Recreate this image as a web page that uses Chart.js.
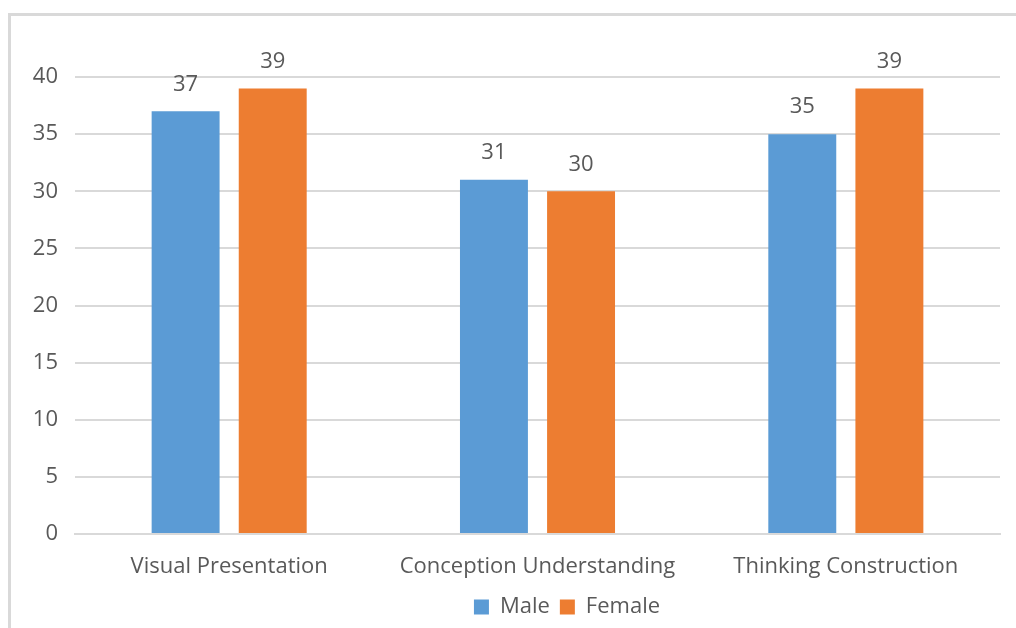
<!DOCTYPE html>
<html>
<head>
<meta charset="utf-8">
<script src="https://cdn.jsdelivr.net/npm/chart.js@4"></script>
<style>
  html, body { margin: 0; padding: 0; background: #fff; overflow: hidden; }
  #wrap { position: relative; width: 1016px; height: 628px; }
  #frame { position: absolute; left: 8px; top: 13px; width: 1030px; height: 640px;
           border: 3px solid #d9d9d9; box-sizing: border-box; }
  canvas { position: absolute; left: 0; top: 0; }
</style>
</head>
<body>
<div id="wrap">
  <div id="frame"></div>
  <canvas id="myChart" width="1016" height="628"></canvas>
</div>
<script>
// Data
const categories = ["Visual Presentation", "Conception Understanding", "Thinking Construction"];
const maleValues = [37, 31, 35];
const femaleValues = [39, 30, 39];
const yTicks = [0, 5, 10, 15, 20, 25, 30, 35, 40];

const textColor = "#595959";
const fontFamily = "'Open Sans', 'Liberation Sans', sans-serif";

// value labels above each bar
const valueLabels = {
  id: "valueLabels",
  afterDatasetsDraw(chart) {
    const ctx = chart.ctx;
    ctx.save();
    ctx.fillStyle = textColor;
    ctx.font = "22px " + fontFamily;
    ctx.textAlign = "center";
    ctx.textBaseline = "bottom";
    chart.data.datasets.forEach((ds, i) => {
      chart.getDatasetMeta(i).data.forEach((bar, j) => {
        ctx.fillText(ds.data[j], bar.x, bar.y - 16);
      });
    });
    ctx.restore();
  },
};

// legend sits under the plot area, a bit right of the canvas centre
const legendShift = {
  id: "legendShift",
  afterLayout(chart) {
    chart.legend.left += 67;
    chart.legend.right += 67;
  },
};

const data = {
  labels: categories,
  datasets: [
    {
      label: "Male",
      data: maleValues,
      backgroundColor: "#5b9bd5",
      categoryPercentage: 0.565,
      barPercentage: 0.78,
    },
    {
      label: "Female",
      data: femaleValues,
      backgroundColor: "#ed7d31",
      categoryPercentage: 0.565,
      barPercentage: 0.78,
    },
  ],
};

const options = {
  responsive: false,
  animation: false,
  layout: { padding: { top: 77, right: 16, left: 0, bottom: 0 } },
  plugins: {
    legend: {
      position: "bottom",
      labels: {
        color: textColor,
        font: { size: 22, family: fontFamily },
        boxWidth: 15,
        boxHeight: 15,
        padding: 10,
      },
    },
    tooltip: { enabled: false },
  },
  scales: {
    x: {
      grid: { display: false },
      border: { color: "#d9d9d9", width: 2 },
      ticks: { color: textColor, font: { size: 22, family: fontFamily }, padding: 12 },
      afterFit(scale) { scale.height = 52; },
    },
    y: {
      min: 0,
      max: 40,
      afterBuildTicks(scale) { scale.ticks = yTicks.map(v => ({ value: v })); },
      grid: { color: "#d9d9d9", lineWidth: 2, drawTicks: false },
      border: { display: false },
      ticks: { color: textColor, font: { size: 22, family: fontFamily }, padding: 17 },
      afterFit(scale) { scale.width = 75; },
    },
  },
};

const config = {
  type: "bar",
  data,
  options,
  plugins: [valueLabels, legendShift],
};

const myChart = new Chart(document.getElementById("myChart"), config);
</script>
</body>
</html>
